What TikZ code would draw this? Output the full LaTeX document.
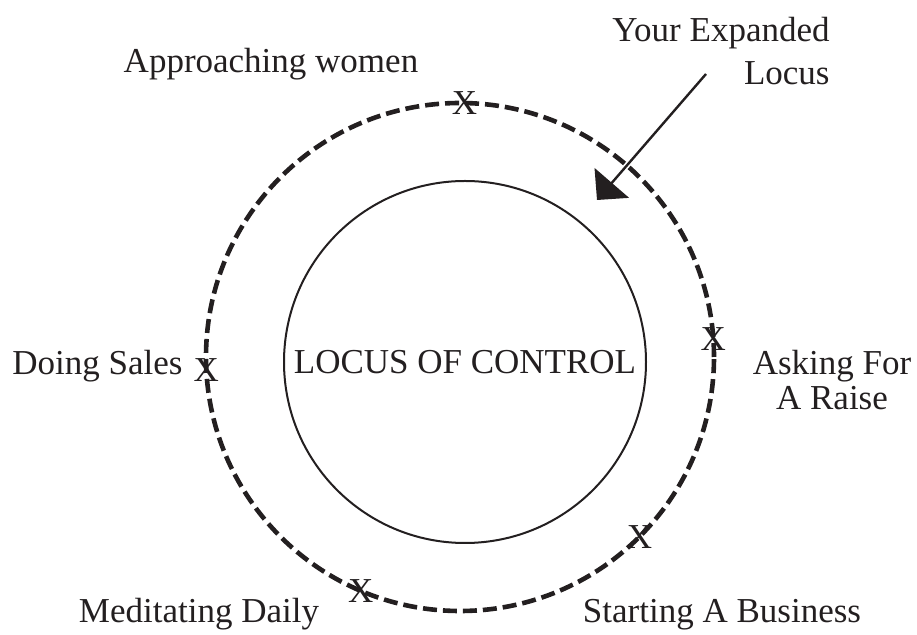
\documentclass[tikz,border=0pt]{standalone}
\usepackage{fontspec}
\setmainfont{Liberation Serif}
\usepackage{xcolor}
\usetikzlibrary{arrows.meta, positioning}
\definecolor{inkgray}{RGB}{35,31,32}

\begin{document}
\begin{tikzpicture}[
    x=0.5pt, y=-0.5pt,
    lbl/.style={inner sep=0pt, text=inkgray, font=\fontsize{17.5}{21.5}\selectfont},
    xmark/.style={inner sep=0pt, text=inkgray, font=\fontsize{17.5}{21.5}\selectfont}
]
\useasboundingbox (0,0) rectangle (917,635);

% the two circles
\node[
    circle,
    draw=inkgray,
    line width=2.3pt,
    dash pattern=on 7pt off 3pt,
    outer sep=0pt,
    minimum size=254pt
] (expanded) at (460,357) {};
\node[
    circle,
    draw=inkgray,
    line width=1pt,
    inner sep=0pt,
    outer sep=0pt,
    minimum size=181pt,
    text=inkgray,
    font=\fontsize{17.5}{21.5}\selectfont
] (locus) at (465,362) {LOCUS OF CONTROL};

% marks on the dashed circle
\node[xmark] (xtop)   at (expanded.89)   {X};
\node[xmark] (xright) at (expanded.4.5)  {X};
\node[xmark] (xleft)  at (expanded.183.5) {X};
\node[xmark] (xlowr)  at (expanded.-45)  {X};
\node[xmark] (xlowl)  at (expanded.-113) {X};

% labels
\node[lbl, anchor=base] (women) at (271,73) {Approaching women};
\node[lbl, anchor=base east, align=right] (yours) at (830,85) {Your Expanded\\Locus};
\node[lbl, anchor=base east] (sales) at (183,375) {Doing Sales};
\node[lbl, anchor=base, align=center, font=\fontsize{17.5}{17.5}\selectfont] (raise) at (832,410) {Asking For\\A Raise};
\node[lbl, anchor=base] (meditate) at (199,623) {Meditating Daily};
\node[lbl, anchor=base] (business) at (722,623) {Starting A Business};

% pointer
\coordinate (ptrstart) at (706,74);
\coordinate (ptrtip) at (597,200);
\draw[draw=inkgray, fill=inkgray, line width=1.2pt, -{Triangle[angle=90:16pt]}] (ptrstart) -- (ptrtip);
\end{tikzpicture}
\end{document}
